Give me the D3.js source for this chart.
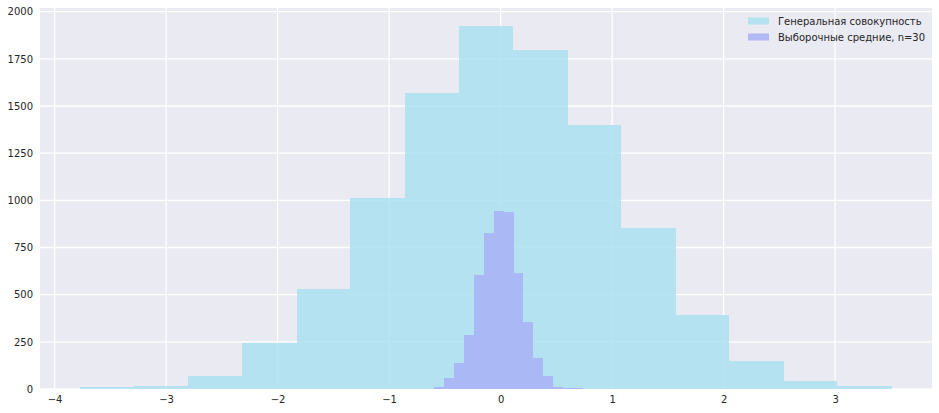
<!DOCTYPE html>
<html>
<head>
<meta charset="utf-8">
<script src="https://cdn.jsdelivr.net/npm/d3@7"></script>
<style>
  body { margin: 0; background: #fff; }
  svg { display: block; font-family: "DejaVu Sans", sans-serif; }
</style>
</head>
<body>
<svg id="hist" width="939" height="413"></svg>
<script>
// Population histogram (15 bins)
var popEdges = [-3.77, -3.29, -2.80, -2.32, -1.83, -1.35, -0.86, -0.37, 0.11, 0.60, 1.08, 1.57, 2.05, 2.54, 3.02, 3.51];
var popCounts = [8, 16, 69, 243, 530, 1012, 1569, 1924, 1797, 1399, 853, 392, 148, 42, 16];

// Sample means histogram, n=30 (15 bins)
var meanEdges = [-0.597, -0.508, -0.419, -0.330, -0.241, -0.152, -0.062, 0.027, 0.116, 0.205, 0.294, 0.383, 0.472, 0.561, 0.650, 0.740];
var meanCounts = [10, 58, 138, 286, 604, 827, 944, 938, 615, 355, 164, 69, 11, 5, 4];

var xTicks = [-4, -3, -2, -1, 0, 1, 2, 3];
var yTicks = [0, 250, 500, 750, 1000, 1250, 1500, 1750, 2000];
var legendLabels = ["Генеральная совокупность", "Выборочные средние, n=30"];

var margin = {top: 8, right: 7, bottom: 24, left: 40};
var width = 939 - margin.left - margin.right;
var height = 413 - margin.top - margin.bottom;

var svg = d3.select("#hist");
var g = svg.append("g").attr("transform", "translate(" + margin.left + "," + margin.top + ")");

var x = d3.scaleLinear().domain([-4.131, 3.869]).range([0, width]);
var y = d3.scaleLinear().domain([0, 2019.6]).range([height, 0]);

// background
g.append("rect").attr("width", width).attr("height", height).attr("fill", "#eaeaf2");

// grid
g.selectAll("line.gy").data(yTicks).enter().append("line")
    .attr("x1", 0).attr("x2", width)
    .attr("y1", function(d) { return y(d); }).attr("y2", function(d) { return y(d); })
    .attr("stroke", "#fff").attr("stroke-width", 1.3);
g.selectAll("line.gx").data(xTicks).enter().append("line")
    .attr("y1", 0).attr("y2", height)
    .attr("x1", function(d) { return x(d); }).attr("x2", function(d) { return x(d); })
    .attr("stroke", "#fff").attr("stroke-width", 1.3);

function bins(edges, counts) {
    return counts.map(function(c, i) { return {x0: edges[i], x1: edges[i + 1], n: c}; });
}

var popColor = "rgb(170,225,240)";
var meanColor = "rgb(168,176,246)";

g.append("g").selectAll("rect").data(bins(popEdges, popCounts)).enter().append("rect")
    .attr("x", function(d) { return x(d.x0); })
    .attr("width", function(d) { return x(d.x1) - x(d.x0); })
    .attr("y", function(d) { return y(d.n); })
    .attr("height", function(d) { return y(0) - y(d.n); })
    .attr("fill", popColor).attr("fill-opacity", 0.85)
    .attr("shape-rendering", "crispEdges");

g.append("g").selectAll("rect").data(bins(meanEdges, meanCounts)).enter().append("rect")
    .attr("x", function(d) { return x(d.x0); })
    .attr("width", function(d) { return x(d.x1) - x(d.x0); })
    .attr("y", function(d) { return y(d.n); })
    .attr("height", function(d) { return y(0) - y(d.n); })
    .attr("fill", meanColor).attr("fill-opacity", 0.85)
    .attr("shape-rendering", "crispEdges");

// axes (no ticks, no domain)
var xAxis = g.append("g").attr("transform", "translate(0," + height + ")")
    .call(d3.axisBottom(x).tickValues(xTicks).tickSize(0).tickPadding(7)
        .tickFormat(function(d) { return d < 0 ? "\u2212" + Math.abs(d) : d; }));
var yAxis = g.append("g")
    .call(d3.axisLeft(y).tickValues(yTicks).tickSize(0).tickPadding(7).tickFormat(d3.format("d")));
[xAxis, yAxis].forEach(function(a) {
    a.select(".domain").remove();
    a.selectAll("text").attr("font-family", "DejaVu Sans").attr("font-size", 10).attr("fill", "#262626");
});

// legend
var legend = svg.append("g").attr("transform", "translate(748,21)");
[popColor, meanColor].forEach(function(c, i) {
    legend.append("rect").attr("x", 0).attr("y", i * 16 - 3.5).attr("width", 21).attr("height", 7)
        .attr("fill", c).attr("fill-opacity", 0.85);
    legend.append("text").attr("x", 30).attr("y", i * 16).attr("dy", "0.35em")
        .attr("font-size", 10).attr("fill", "#262626").text(legendLabels[i]);
});
</script>
</body>
</html>
